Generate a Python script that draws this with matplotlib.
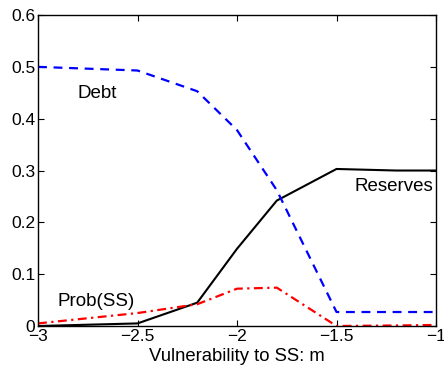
import matplotlib
matplotlib.use("Agg")
import matplotlib.pyplot as plt
import numpy as np

plt.rcParams['font.family'] = ['Liberation Sans', 'DejaVu Sans']

# vulnerability grid
m = [-3.0, -2.5, -2.2, -2.0, -1.8, -1.5, -1.2, -1.0]

reserves = [0.0, 0.005, 0.045, 0.149, 0.242, 0.303, 0.300, 0.300]
debt = [0.500, 0.493, 0.453, 0.378, 0.262, 0.027, 0.027, 0.027]
prob_ss = [0.005, 0.025, 0.042, 0.072, 0.074, 0.0, 0.001, 0.002]

xticks = [-3, -2.5, -2, -1.5, -1]
yticks = [0, 0.1, 0.2, 0.3, 0.4, 0.5, 0.6]
ytick_labels = ['0', '0.1', '0.2', '0.3', '0.4', '0.5', '0.6']

fig = plt.figure(figsize=(4.44, 3.67), dpi=100)
ax = fig.add_axes([0.0856, 0.1117, 0.8964, 0.8473])

ax.plot(m, reserves, color='black', lw=1.5)
ax.plot(m, debt, color='blue', lw=1.6, dashes=(4, 3))
ax.plot(m, prob_ss, color='red', lw=1.6, dashes=(4, 2, 1, 2))

ax.text(-2.80, 0.448, 'Debt', fontsize=13.5, va='center')
ax.text(-1.015, 0.270, 'Reserves', fontsize=13.5, va='center', ha='right')
ax.text(-2.90, 0.048, 'Prob(SS)', fontsize=13.5, va='center')

ax.set_xlim(-3, -1)
ax.set_ylim(0, 0.6)
ax.set_xticks(xticks)
ax.set_xticklabels(['\u22123', '\u22122.5', '\u22122', '\u22121.5', '\u22121'])
ax.set_yticks(yticks)
ax.set_yticklabels(ytick_labels)
ax.tick_params(direction='in', top=True, right=True, length=4, width=0.8,
               labelsize=12.5, pad=2)
for s in ax.spines.values():
    s.set_linewidth(1.0)
ax.set_xlabel('Vulnerability to SS: m', fontsize=13.3, labelpad=3)

fig.savefig('out.png', dpi=100)
